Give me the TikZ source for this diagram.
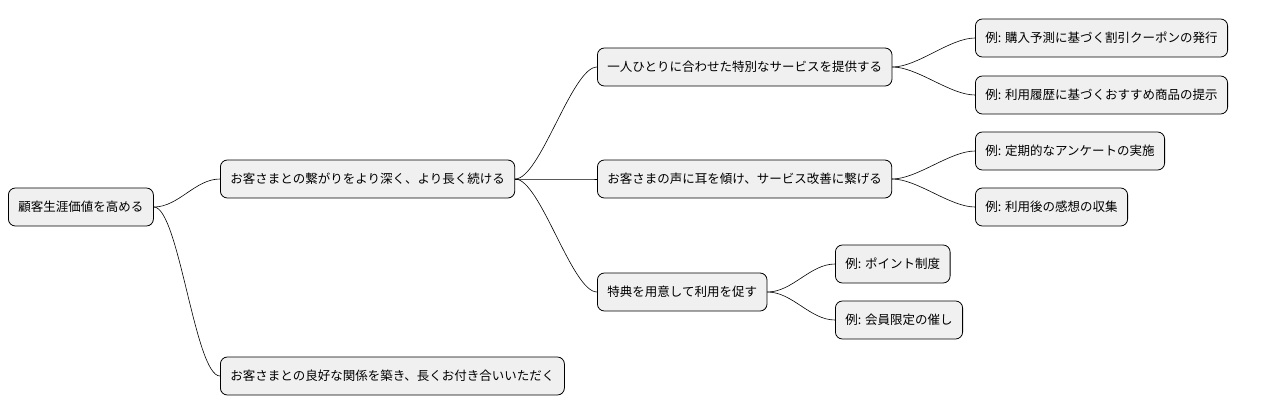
\documentclass[tikz,border=0pt]{standalone}
\usepackage{fontspec}
\setmainfont{Noto Sans CJK JP}
\begin{document}
\begin{tikzpicture}[x=1pt,y=-1pt,
  n/.style={draw=black,fill=black!6,rounded corners=7pt,minimum height=38pt,inner xsep=10pt,font=\fontsize{12.5pt}{14pt}\selectfont,anchor=west,line width=0.8pt},
  e/.style={draw=black,line width=0.6pt}]
\useasboundingbox (0,0) rectangle (1268,415);
\node[n] (r) at (8,207) {顧客生涯価値を高める};
\node[n] (a) at (220,179) {お客さまとの繋がりをより深く、より長く続ける};
\node[n] (b) at (220,376) {お客さまとの良好な関係を築き、長くお付き合いいただく};
\node[n] (a1) at (597,67) {一人ひとりに合わせた特別なサービスを提供する};
\node[n] (a2) at (597,179) {お客さまの声に耳を傾け、サービス改善に繋げる};
\node[n] (a3) at (597,292) {特典を用意して利用を促す};
\node[n] (a1a) at (975,38) {例: 購入予測に基づく割引クーポンの発行};
\node[n] (a1b) at (975,95) {例: 利用履歴に基づくおすすめ商品の提示};
\node[n] (a2a) at (975,151) {例: 定期的なアンケートの実施};
\node[n] (a2b) at (975,207) {例: 利用後の感想の収集};
\node[n] (a3a) at (835,264) {例: ポイント制度};
\node[n] (a3b) at (835,320) {例: 会員限定の催し};
\foreach \p/\c in {r/a,r/b,a/a1,a/a2,a/a3,a1/a1a,a1/a1b,a2/a2a,a2/a2b,a3/a3a,a3/a3b}
  \draw[e] (\p.east) .. controls ++(25,0) and ++(-25,0) .. (\c.west);
\end{tikzpicture}
\end{document}
